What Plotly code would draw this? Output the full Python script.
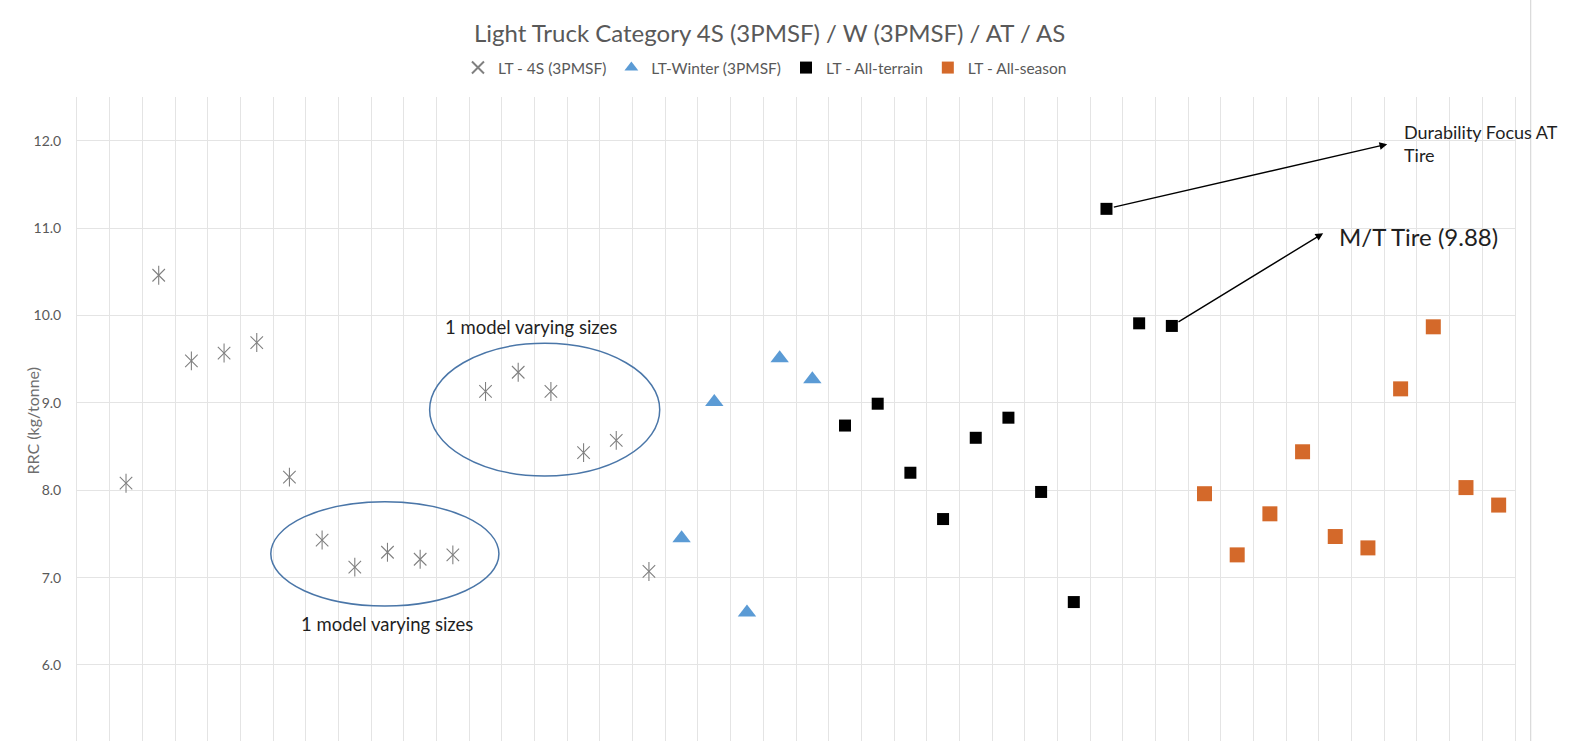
import plotly.graph_objects as go

# Rolling resistance coefficient (kg/tonne) by tire, grouped by category
fs_x = list(range(1, 18))
fs_rrc = [8.08, 10.46, 9.48, 9.57, 9.69, 8.15, 7.43, 7.12, 7.29, 7.21, 7.26,
          9.13, 9.35, 9.13, 8.43, 8.57, 7.07]

winter_x = list(range(18, 23))
winter_rrc = [7.45, 9.01, 6.60, 9.51, 9.27]

at_x = list(range(23, 34))
at_rrc = [8.74, 8.99, 8.20, 7.67, 8.60, 8.83, 7.98, 6.72, 11.22, 9.91, 9.88]

as_x = list(range(34, 44))
as_rrc = [7.96, 7.26, 7.73, 8.44, 7.47, 7.34, 9.16, 9.87, 8.03, 7.83]

y_ticks = [6, 7, 8, 9, 10, 11, 12]
y_tick_labels = ["6.0", "7.0", "8.0", "9.0", "10.0", "11.0", "12.0"]

FONT = "Lato"
GRID = "#e4e4e4"
STAR = "#808080"
BLUE = "#5b9bd5"
ORANGE = "#d4692a"

fig = go.Figure()

# 4S stars: an X plus a vertical stroke
fig.add_trace(go.Scatter(
    x=fs_x, y=fs_rrc, mode="markers", name="LT - 4S (3PMSF)",
    legendgroup="fs",
    marker=dict(symbol="x-thin-open", size=12.5, color=STAR,
                line=dict(color=STAR, width=1.1)),
))
fig.add_trace(go.Scatter(
    x=fs_x, y=fs_rrc, mode="markers", showlegend=False, legendgroup="fs",
    hoverinfo="skip",
    marker=dict(symbol="line-ns-open", size=13.5, color=STAR,
                line=dict(color=STAR, width=1.1)),
))
fig.add_trace(go.Scatter(
    x=winter_x, y=winter_rrc, mode="markers", name="LT-Winter (3PMSF)",
    marker=dict(symbol="triangle-up", size=16, color=BLUE),
))
fig.add_trace(go.Scatter(
    x=at_x, y=at_rrc, mode="markers", name="LT - All-terrain",
    marker=dict(symbol="square", size=12, color="#000000"),
))
fig.add_trace(go.Scatter(
    x=as_x, y=as_rrc, mode="markers", name="LT - All-season",
    marker=dict(symbol="square", size=15, color=ORANGE),
))

# circled groups of one model in several sizes
ELLIPSE = dict(color="#4a76a8", width=1.5)
fig.add_shape(type="circle", xref="x", yref="y", x0=10.29, x1=17.33,
              y0=8.163, y1=9.681, line=ELLIPSE)
fig.add_shape(type="circle", xref="x", yref="y", x0=5.43, x1=12.41,
              y0=6.675, y1=7.869, line=ELLIPSE)

# chart area edge on the right
fig.add_shape(type="line", xref="paper", yref="paper", x0=1.0109, x1=1.0109,
              y0=0, y1=1.151, line=dict(color="#d9d9d9", width=1.2))

TXT = "#1f1f1f"
fig.add_annotation(x=13.40, y=9.87, text="1 model varying sizes", showarrow=False,
                   font=dict(family=FONT, size=18.5, color=TXT))
fig.add_annotation(x=8.98, y=6.47, text="1 model varying sizes", showarrow=False,
                   font=dict(family=FONT, size=18.5, color=TXT))

# call-outs for the two notable all-terrain tires
fig.add_annotation(x=39.59, y=11.96, ax=at_x[8], ay=at_rrc[8], axref="x", ayref="y",
                   text="", showarrow=True, arrowhead=2, arrowsize=1.1,
                   arrowwidth=1.4, arrowcolor="#000000", startstandoff=6)
fig.add_annotation(x=40.03, y=11.97, text="Durability Focus AT<br>Tire",
                   showarrow=False, xanchor="left", yanchor="middle", align="left",
                   font=dict(family=FONT, size=18, color=TXT))
fig.add_annotation(x=37.63, y=10.94, ax=at_x[10], ay=at_rrc[10], axref="x", ayref="y",
                   text="", showarrow=True, arrowhead=2, arrowsize=1.1,
                   arrowwidth=1.4, arrowcolor="#000000", startstandoff=6)
fig.add_annotation(x=38.04, y=10.90, text="M/T Tire (9.88)",
                   showarrow=False, xanchor="left", yanchor="middle",
                   font=dict(family=FONT, size=24, color=TXT))

# y-axis title
fig.add_annotation(xref="paper", yref="paper", x=-0.0389, y=0.497,
                   text="RRC (kg/tonne)", textangle=-90, showarrow=False,
                   font=dict(family=FONT, size=16, color="#6e6e6e"))

fig.update_layout(
    width=1574, height=741,
    margin=dict(l=77, r=59, t=97, b=0),
    paper_bgcolor="white", plot_bgcolor="white",
    font=dict(family=FONT, color="#595959"),
    title=dict(text="Light Truck Category 4S (3PMSF) / W (3PMSF) / AT / AS",
               xref="container", x=0.489, xanchor="center",
               yref="container", y=1 - 34 / 741, yanchor="middle",
               font=dict(family=FONT, size=24, color="#595959")),
    legend=dict(orientation="h", xref="container", x=0.486, xanchor="center",
                yref="container", y=1 - 68 / 741, yanchor="middle",
                font=dict(family=FONT, size=15.5, color="#595959"),
                itemsizing="constant", itemwidth=30, tracegroupgap=0),
    showlegend=True,
)
fig.update_xaxes(range=[-0.5, 43.5], tick0=-0.5, dtick=1, showgrid=True,
                 gridcolor=GRID, gridwidth=1, zeroline=False,
                 showticklabels=False, ticks="", showline=False, fixedrange=True)
fig.update_yaxes(range=[5.13, 12.5], tickvals=y_ticks, ticktext=y_tick_labels,
                 showgrid=True, gridcolor=GRID, gridwidth=1, zeroline=False,
                 showline=True, mirror=True, linecolor=GRID, linewidth=1,
                 ticks="", ticklabelstandoff=12,
                 tickfont=dict(family=FONT, size=14, color="#595959"))

fig.write_html("out.html")
